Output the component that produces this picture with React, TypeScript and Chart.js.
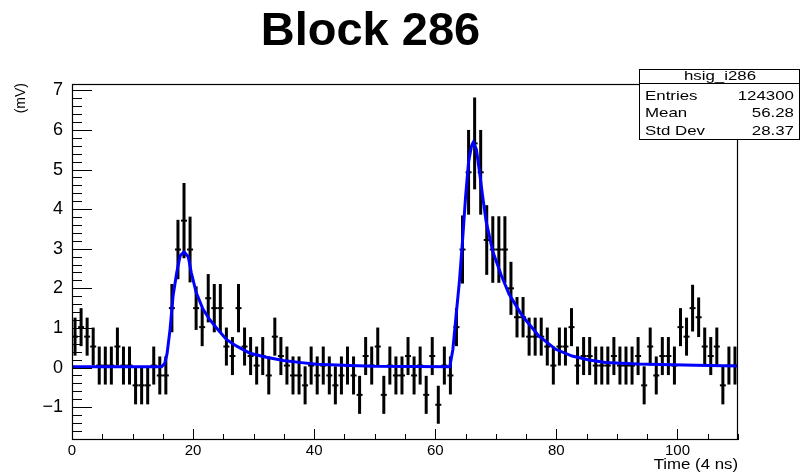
import { useEffect, useRef } from 'react';
import { Chart, registerables } from 'chart.js';

Chart.register(...registerables);

const chartTitle = 'Block 286';
const xTitle = 'Time (4 ns)';
const yTitle = '(mV)';
const statsTitle = 'hsig_i286';
const statsLabels = ['Entries', 'Mean', 'Std Dev'];
const statsValues = ['124300', '56.28', '28.37'];

const binLow = 0;
const binWidth = 1;
const xRange = [0, 110];
const yRange = [-1.83, 7.16];
const xTicks = [0, 20, 40, 60, 80, 100];
const yTicks = [-1, 0, 1, 2, 3, 4, 5, 6, 7];

const binValues = [
  0.78, 1.02, 0.78, 0.53, 0.05, 0.05, 0.05, 0.53, 0.05, 0.05,
  -0.45, -0.45, -0.45, 0.05, -0.2, -0.2, 1.5, 2.98, 3.71, 2.98,
  1.5, 1.02, 1.75, 1.5, 1.5, 0.53, 0.29, 1.5, 0.53, 0.29,
  0.05, 0.29, -0.2, 0.78, 0.29, 0.05, -0.2, -0.2, -0.45, 0.05,
  -0.2, 0.05, -0.2, -0.45, -0.2, 0.05, -0.2, -0.69, 0.29, 0.05,
  0.53, -0.69, 0.05, -0.2, -0.2, 0.29, -0.2, 0.05, -0.69, 0.29,
  -0.94, 0.05, -0.2, 1.02, 2.98, 4.93, 5.66, 4.93, 3.22, 2.98,
  2.98, 2.98, 2.0, 1.27, 1.27, 0.78, 0.78, 0.78, 0.53, 0.05,
  0.53, 0.53, 1.02, 0.05, 0.29, 0.29, 0.05, 0.05, 0.05, 0.29,
  0.05, 0.05, 0.05, 0.29, -0.45, 0.53, -0.2, 0.29, 0.29, 0.05,
  1.02, 0.78, 1.5, 1.27, 0.53, 0.29, 0.53, -0.45, 0.05, 0.05,
];

const binErrors = [
  0.48, 0.48, 0.48, 0.48, 0.48, 0.48, 0.48, 0.48, 0.48, 0.48,
  0.48, 0.48, 0.48, 0.48, 0.48, 0.48, 0.61, 0.75, 0.95, 0.83,
  0.55, 0.48, 0.61, 0.61, 0.61, 0.48, 0.48, 0.61, 0.48, 0.48,
  0.48, 0.48, 0.48, 0.48, 0.48, 0.48, 0.48, 0.48, 0.48, 0.48,
  0.48, 0.48, 0.48, 0.48, 0.48, 0.48, 0.48, 0.48, 0.48, 0.48,
  0.48, 0.48, 0.48, 0.48, 0.48, 0.48, 0.48, 0.48, 0.48, 0.48,
  0.48, 0.48, 0.48, 0.48, 0.86, 1.07, 1.16, 1.07, 0.88, 0.84,
  0.84, 0.84, 0.67, 0.51, 0.51, 0.48, 0.48, 0.48, 0.48, 0.48,
  0.48, 0.48, 0.48, 0.48, 0.48, 0.48, 0.48, 0.48, 0.48, 0.48,
  0.48, 0.48, 0.48, 0.48, 0.48, 0.48, 0.48, 0.48, 0.48, 0.48,
  0.48, 0.48, 0.59, 0.5, 0.48, 0.48, 0.48, 0.48, 0.48, 0.48,
];

const fitX = [
  0, 14.8, 15.3, 15.7, 16.2, 16.7, 17.3, 17.85, 18.5, 19.2,
  19.7, 20.5, 21.6, 22.7, 23.8, 25.5, 27.2, 29.4, 32.1, 34.9,
  37.5, 40.4, 45.9, 50, 62.4, 62.9, 63.4, 64.0, 64.5, 65.0,
  65.5, 66.0, 66.3, 66.8, 67.3, 67.8, 68.4, 69.5, 70.9, 72.2,
  74.4, 77.1, 79.9, 82.6, 85.4, 88.1, 93.4, 103, 110,
];
const fitY = [
  0.02, 0.02, 0.1, 0.35, 0.97, 1.82, 2.4, 2.82, 2.92, 2.8,
  2.4, 1.9, 1.48, 1.22, 1.01, 0.71, 0.54, 0.36, 0.26, 0.18,
  0.13, 0.08, 0.05, 0.03, 0.02, 0.45, 1.25, 2.2, 3.2, 4.3,
  5.2, 5.6, 5.69, 5.5, 4.95, 4.35, 3.69, 2.93, 2.33, 1.85,
  1.3, 0.8, 0.46, 0.29, 0.19, 0.13, 0.09, 0.06, 0.04,
];

const FONT = '"Liberation Sans", Arial, Helvetica, sans-serif';

function stretchText(ctx: CanvasRenderingContext2D, text: string, x: number, y: number, align: CanvasTextAlign, sx: number) {
  ctx.save();
  ctx.translate(x, y);
  ctx.scale(sx, 1);
  ctx.textAlign = align;
  ctx.textBaseline = 'alphabetic';
  ctx.fillText(text, 0, 0);
  ctx.restore();
}

const rootDecor = {
  id: 'rootDecor',
  afterDraw(chart: any) {
    const ctx: CanvasRenderingContext2D = chart.ctx;
    const xs = chart.scales.x;
    const ys = chart.scales.y;
    const { left, right, top, bottom } = chart.chartArea;
    ctx.save();
    ctx.strokeStyle = '#000';
    ctx.fillStyle = '#000';
    ctx.lineWidth = 1;

    // y ticks (inside)
    const kMin = Math.ceil(ys.min / 0.2 - 1e-6);
    const kMax = Math.floor(ys.max / 0.2 + 1e-6);
    ctx.beginPath();
    for (let k = kMin; k <= kMax; k++) {
      const v = k * 0.2;
      const y = Math.round(ys.getPixelForValue(v)) + 0.5;
      const len = k % 5 === 0 ? 20 : 10;
      ctx.moveTo(left, y);
      ctx.lineTo(left + len, y);
    }
    // x ticks (inside)
    for (let v = xs.min; v <= xs.max + 1e-6; v += 5) {
      const x = Math.round(xs.getPixelForValue(v)) + 0.5;
      const len = v % 20 === 0 ? 11 : 6;
      ctx.moveTo(x, bottom);
      ctx.lineTo(x, bottom - len);
    }
    ctx.stroke();

    // frame
    ctx.lineWidth = 1.2;
    ctx.strokeRect(left + 0.5, top + 0.5, right - left - 1, bottom - top - 1);

    // title
    ctx.font = `bold 47px ${FONT}`;
    ctx.textAlign = 'center';
    ctx.textBaseline = 'alphabetic';
    ctx.fillText(chartTitle, 370.5, 45);

    // stats box
    const bx = 639.5, by = 69.5, bw = 160, bh = 70;
    ctx.fillStyle = '#fff';
    ctx.fillRect(bx, by, bw, bh);
    ctx.fillStyle = '#000';
    ctx.lineWidth = 1;
    ctx.strokeRect(bx, by, bw, bh);
    ctx.beginPath();
    ctx.moveTo(bx, 83.5);
    ctx.lineTo(bx + bw, 83.5);
    ctx.stroke();
    ctx.font = `13.5px ${FONT}`;
    stretchText(ctx, statsTitle, 720, 80, 'center', 1.25);
    const rowY = [99.5, 116.5, 135];
    statsLabels.forEach((lab, i) => {
      stretchText(ctx, lab, 645, rowY[i], 'left', 1.25);
      stretchText(ctx, statsValues[i], 794, rowY[i], 'right', 1.25);
    });

    // axis titles
    ctx.font = `14px ${FONT}`;
    stretchText(ctx, xTitle, 738, 469, 'right', 1.2);
    ctx.save();
    ctx.translate(25, 83);
    ctx.rotate(-Math.PI / 2);
    ctx.font = `14px ${FONT}`;
    ctx.textAlign = 'right';
    ctx.textBaseline = 'alphabetic';
    ctx.fillText(yTitle, 0, 0);
    ctx.restore();

    ctx.restore();
  },
};

export default function App() {
  const ref = useRef<HTMLCanvasElement | null>(null);
  useEffect(() => {
    document.body.style.margin = '0';
    const canvas = ref.current;
    if (!canvas) return;
    const centers = binValues.map((_, i) => binLow + (i + 0.5) * binWidth);
    const chart = new Chart(canvas, {
      type: 'scatter',
      data: {
        datasets: [
          {
            type: 'line',
            data: fitX.map((x, i) => ({ x, y: fitY[i] })),
            borderColor: '#0000ff',
            borderWidth: 3,
            pointRadius: 0,
            tension: 0,
            fill: false,
            order: 0,
          } as any,
          {
            type: 'scatter',
            data: binValues.map((v, i) => ({ x: centers[i], y: v })),
            pointStyle: 'line',
            pointRadius: 3,
            pointBorderWidth: 2,
            pointBorderColor: '#000',
            pointBackgroundColor: '#000',
            showLine: false,
            order: 1,
          } as any,
          {
            type: 'bar',
            data: binValues.map((v, i) => ({ x: centers[i], y: [v - binErrors[i], v + binErrors[i]] })),
            backgroundColor: '#000',
            borderWidth: 0,
            barThickness: 3,
            inflateAmount: 0,
            grouped: false,
            order: 2,
          } as any,
        ],
      },
      options: {
        animation: false,
        responsive: false,
        devicePixelRatio: 1,
        events: [],
        layout: { padding: { top: 84, right: 64, left: 0, bottom: 0 } },
        plugins: { legend: { display: false }, tooltip: { enabled: false }, title: { display: false } },
        scales: {
          x: {
            type: 'linear',
            min: xRange[0],
            max: xRange[1],
            offset: false,
            grid: { display: false, drawTicks: false },
            border: { display: false },
            afterFit: (s: any) => { s.height = 34; },
            afterBuildTicks: (s: any) => { s.ticks = xTicks.map((v) => ({ value: v })); },
            ticks: {
              font: { family: FONT, size: 15 },
              color: '#000',
              padding: 2,
              maxRotation: 0,
              autoSkip: false,
              callback: (v: any) => String(v),
            },
          },
          y: {
            type: 'linear',
            min: yRange[0],
            max: yRange[1],
            grid: { display: false, drawTicks: false },
            border: { display: false },
            afterFit: (s: any) => { s.width = 72; },
            afterBuildTicks: (s: any) => { s.ticks = yTicks.map((v) => ({ value: v })); },
            ticks: {
              font: { family: FONT, size: 18 },
              color: '#000',
              padding: 9,
              autoSkip: false,
              callback: (v: any) => (v < 0 ? '\u2212' + Math.abs(v) : String(v)),
            },
          },
        },
      } as any,
      plugins: [rootDecor],
    });
    return () => chart.destroy();
  }, []);
  return <canvas ref={ref} width={802} height={474} style={{ display: 'block' }} />;
}
